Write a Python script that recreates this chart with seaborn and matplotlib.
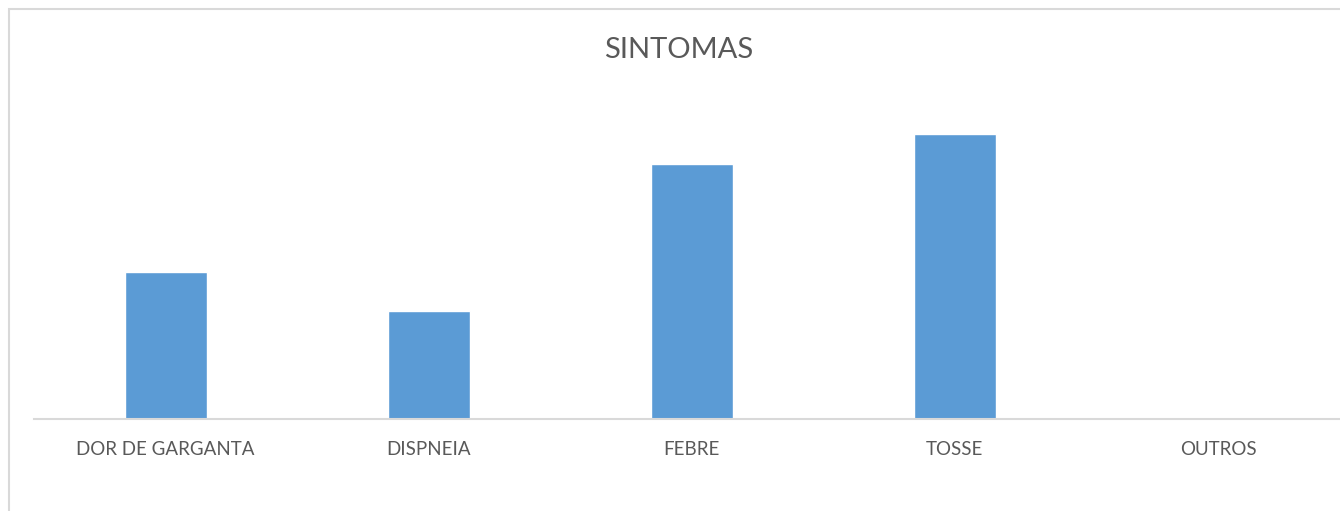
import matplotlib
matplotlib.use("Agg")
import matplotlib.pyplot as plt
import matplotlib.patches as mpatches
import seaborn as sns

sintomas = ["DOR DE GARGANTA", "DISPNEIA", "FEBRE", "TOSSE", "OUTROS"]
casos = [15, 11, 26, 29, 0]

W, H = 1340, 511
sns.set_style("white")
plt.rcParams["font.family"] = ["Lato", "DejaVu Sans"]

fig = plt.figure(figsize=(W / 100, H / 100), dpi=100)
# eixo deslocado para a direita, como no recorte original
ax = fig.add_axes([34 / W, (H - 419) / H, (1349.5 - 34) / W, 340 / H])

sns.barplot(x=sintomas, y=casos, color="#5B9BD5", saturation=1, width=0.312, ax=ax)
ax.set_ylim(0, 34.6)
ax.set_xlim(-0.5, 4.5)
ax.set_yticks([])
ax.set_xlabel("")
ax.set_ylabel("")
for s in ["top", "left", "right"]:
    ax.spines[s].set_visible(False)
ax.spines["bottom"].set_color("#d9d9d9")
ax.spines["bottom"].set_linewidth(1.5)
ax.tick_params(axis="x", length=0, pad=16, labelsize=13.5, labelcolor="#595959")

fig.text(679 / W, 1 - 50 / H, "SINTOMAS", ha="center", va="center",
         fontsize=21, color="#595959")

# borda da área do gráfico
fig.patches.append(mpatches.Rectangle((8.5 / W, -0.05), 1.2, 1.05 - 9.5 / H,
                                      transform=fig.transFigure, fill=False,
                                      edgecolor="#d9d9d9", linewidth=1.5))

fig.savefig("out.png", dpi=100)
